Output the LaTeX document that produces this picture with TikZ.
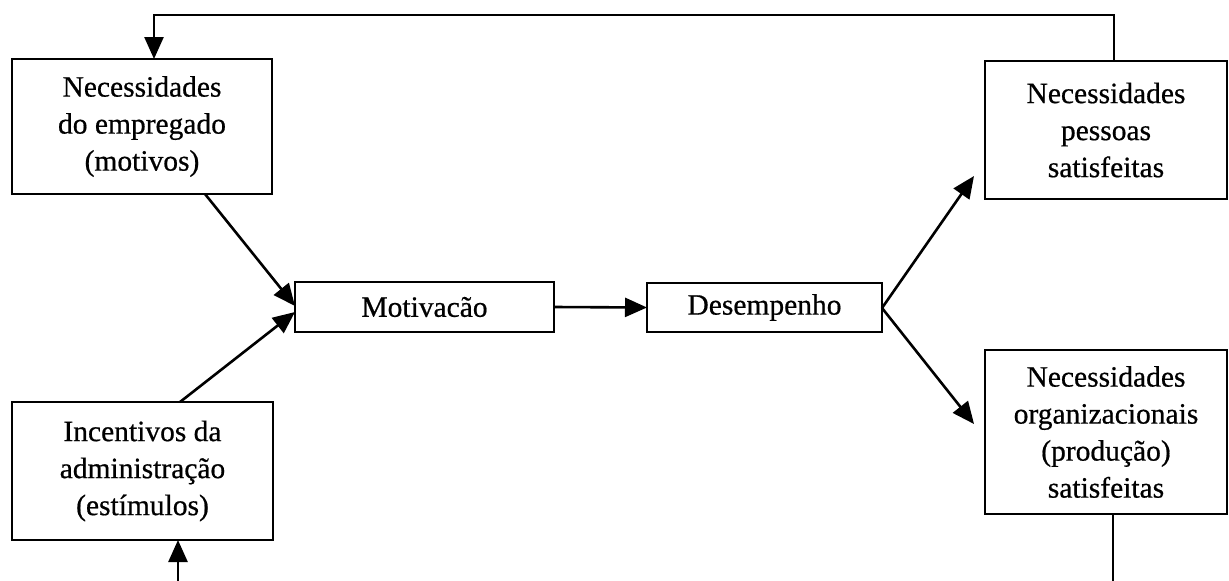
\documentclass[tikz,border=0pt]{standalone}
\usepackage{fontspec}
\setmainfont[FakeBold=0.6]{Liberation Serif}
\usetikzlibrary{arrows.meta}
\begin{document}
\begin{tikzpicture}[x=1pt,y=1pt,
  box/.style={draw=black,line width=2.6pt,inner sep=0pt,outer sep=0pt,align=center,
    font=\fontsize{29.5}{37}\selectfont},
  conn/.style={draw=black,line width=2.6pt},
  arr/.style={conn,-{Triangle[length=22pt,width=19pt]}}]
\useasboundingbox (0,0) rectangle (1229,-581);
\fill[white] (0,0) rectangle (1229,-581);
\node[box,minimum width=260pt,minimum height=135pt] (A) at (142,-126.5)
  {Necessidades\\do empregado\\(motivos)};
\node[box,minimum width=261pt,minimum height=138pt] (B) at (142.5,-471)
  {Incentivos da\\administração\\(estímulos)};
\node[box,minimum width=259pt,minimum height=50pt] (M) at (424.5,-307)
  {Motivacão};
\node[box,minimum width=235pt,minimum height=49pt] (D) at (764.5,-307.5)
  {Desempenho};
\node[box,minimum width=242pt,minimum height=138pt] (C) at (1106,-130)
  {Necessidades\\pessoas\\satisfeitas};
\node[box,minimum width=242pt,minimum height=164pt] (E) at (1106,-432)
  {Necessidades\\organizacionais\\(produção)\\satisfeitas};
% feedback loop
\coordinate (t1) at (1114,-15);
\coordinate (t2) at (154,-15);
\draw[arr] (C.north -| t1) -- (t1) -- (t2) -- (A.north -| t2);
\coordinate (e1) at (1113,-581);
\draw[conn] (E.south -| e1) -- (e1);
\coordinate (b1) at (178,-581);
\draw[arr] (b1) -- (B.south -| b1);
% inputs to motivation
\coordinate (a1) at (205,-194);
\coordinate (m1) at (295,-306);
\coordinate (bt) at (180,-402);
\coordinate (m2) at (295,-312);
\draw[arr] (a1) -- (m1);
\draw[arr] (bt) -- (m2);
\draw[arr] (M.east) -- (D.west);
% outputs of performance
\coordinate (d1) at (882,-308);
\coordinate (c1) at (974,-176);
\coordinate (e2) at (974,-424);
\draw[arr] (d1) -- (c1);
\draw[arr] (d1) -- (e2);
\end{tikzpicture}
\end{document}
